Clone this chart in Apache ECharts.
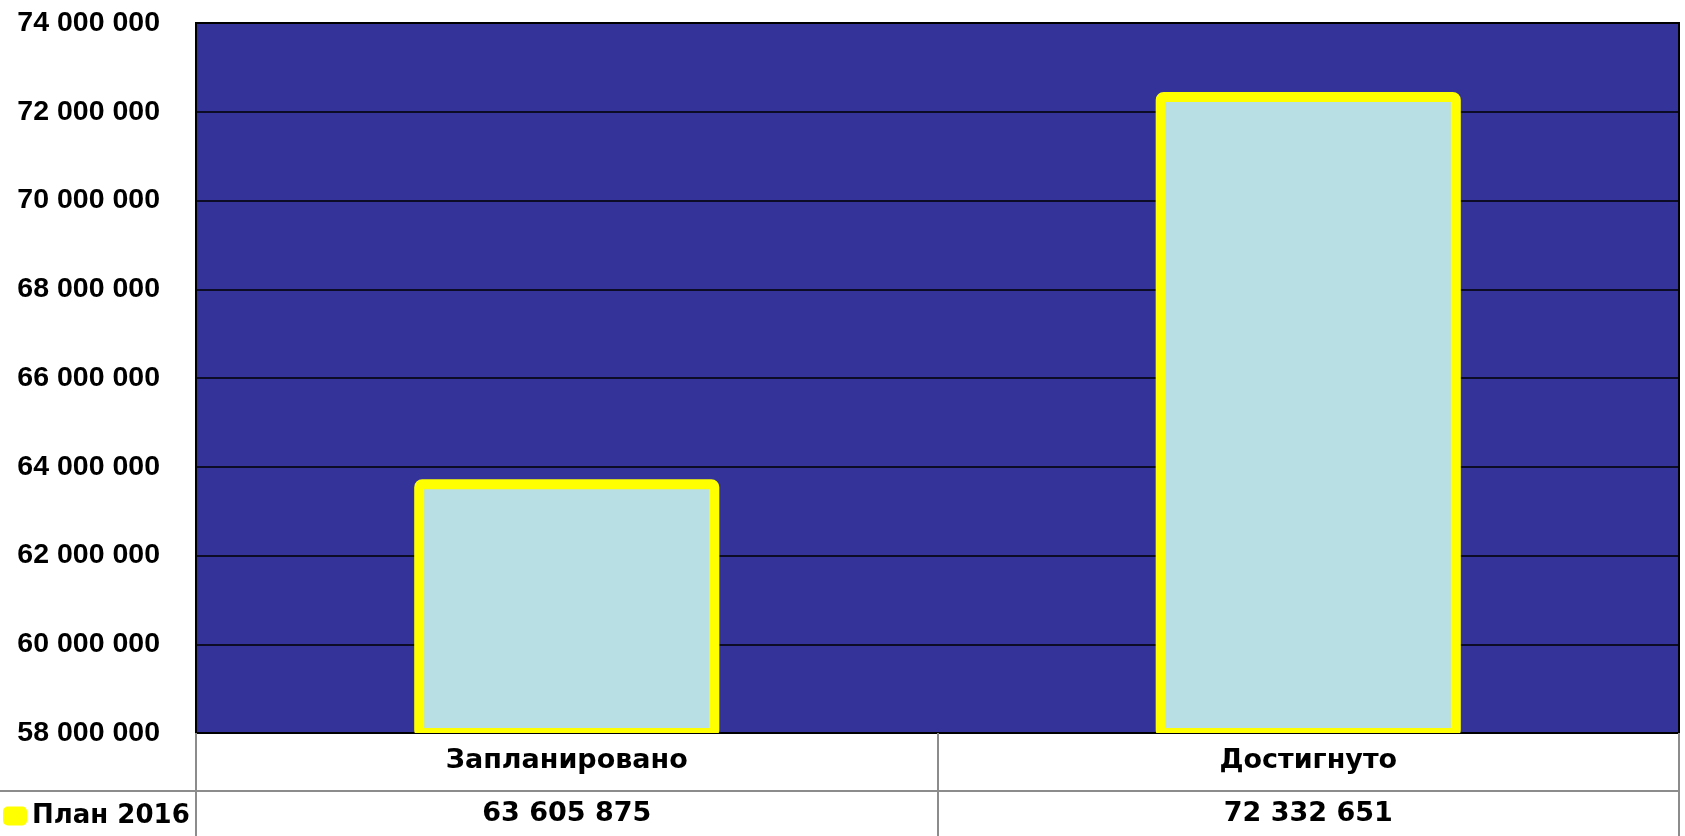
<!DOCTYPE html>
<html>
<head>
<meta charset="utf-8">
<title>План 2016</title>
<script src="https://cdn.jsdelivr.net/npm/echarts@6/dist/echarts.min.js"></script>
<style>
  html, body { margin: 0; padding: 0; background: #ffffff; }
  #chart { width: 1685px; height: 836px; }
</style>
</head>
<body>
<div id="chart"></div>
<script>
// Plan vs. achieved for 2016
const categories = ['Запланировано', 'Достигнуто'];
const seriesName = 'План 2016';
const planValues = [63605875, 72332651];
const yMin = 58000000;
const yMax = 74000000;
const yStep = 2000000;

// Thousands separated by spaces: 63605875 -> "63 605 875"
function spaced(n) {
  return String(Math.round(n)).replace(/\B(?=(\d{3})+(?!\d))/g, ' ');
}

const AXIS_FONT = 'Liberation Sans';
const TABLE_FONT = 'DejaVu Sans';
const BAR_FILL = '#B8DFE3';
const BAR_EDGE = '#FFFF00';
const BAR_EDGE_W = 10;
const BAR_SHARE = 0.398; // bar width as a share of the category band

const chart = echarts.init(document.getElementById('chart'), null, { renderer: 'canvas' });

// Bars with the border stroked on the bar outline (centred on the value edge)
function renderBar(params, api) {
  const idx = api.value(0);
  const top = api.coord([idx, api.value(1)]);
  const base = api.coord([idx, yMin]);
  const w = api.size([1, 0])[0] * BAR_SHARE;
  return {
    type: 'rect',
    shape: { x: top[0] - w / 2, y: top[1], width: w, height: base[1] - top[1], r: 3 },
    style: { fill: BAR_FILL, stroke: BAR_EDGE, lineWidth: BAR_EDGE_W, lineJoin: 'round' }
  };
}

chart.setOption({
  animation: false,
  backgroundColor: '#ffffff',
  textStyle: { fontFamily: AXIS_FONT },
  grid: {
    left: 196, right: 6, top: 23, bottom: 103,
    show: true,
    backgroundColor: '#333399',
    borderColor: '#000000',
    borderWidth: 2
  },
  legend: {
    left: 3,
    top: 803,
    padding: 0,
    icon: 'roundRect',
    itemWidth: 24,
    itemHeight: 19,
    itemStyle: { color: BAR_EDGE, borderColor: BAR_EDGE, borderWidth: 0 },
    textStyle: { fontFamily: TABLE_FONT, fontWeight: 'bold', fontSize: 26, color: '#000000' },
    data: [seriesName]
  },
  xAxis: [
    {
      type: 'category',
      data: categories,
      position: 'bottom',
      axisLine: { show: true, lineStyle: { color: '#000000', width: 2 } },
      axisTick: {
        show: true,
        alignWithLabel: false,
        inside: false,
        length: 103,
        lineStyle: { color: '#8c8c8c', width: 2 }
      },
      axisLabel: {
        margin: 28,
        verticalAlign: 'middle',
        fontFamily: TABLE_FONT,
        fontWeight: 'bold',
        fontSize: 27,
        color: '#000000'
      },
      splitLine: { show: false }
    },
    {
      // value row of the data table under the plot
      type: 'category',
      data: planValues.map(spaced),
      position: 'bottom',
      offset: 58,
      axisLine: { show: false },
      axisTick: { show: false },
      axisLabel: {
        margin: 23,
        verticalAlign: 'middle',
        fontFamily: TABLE_FONT,
        fontWeight: 'bold',
        fontSize: 27,
        color: '#000000'
      },
      splitLine: { show: false }
    }
  ],
  yAxis: {
    type: 'value',
    min: yMin,
    max: yMax,
    interval: yStep,
    axisLine: { show: true, lineStyle: { color: '#000000', width: 2 } },
    axisTick: { show: false },
    axisLabel: {
      margin: 36,
      fontFamily: AXIS_FONT,
      fontWeight: 'bold',
      fontSize: 28.5,
      color: '#000000',
      formatter: spaced
    },
    splitLine: { show: true, lineStyle: { color: '#000000', width: 1.5 } }
  },
  series: [
    {
      name: seriesName,
      type: 'custom',
      xAxisIndex: 0,
      clip: true,
      renderItem: renderBar,
      encode: { x: 0, y: 1 },
      itemStyle: { color: BAR_EDGE },
      data: planValues.map((v, i) => [i, v]),
      z: 3
    }
  ],
  graphic: [
    {
      // horizontal rule between category row and value row
      type: 'line',
      shape: { x1: 0, y1: 791, x2: 1679, y2: 791 },
      style: { stroke: '#8c8c8c', lineWidth: 2 },
      z: 10
    }
  ]
});
</script>
</body>
</html>
